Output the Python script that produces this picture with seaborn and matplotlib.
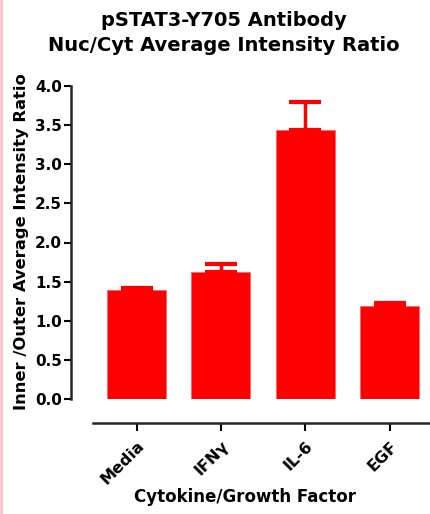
import matplotlib
matplotlib.use("Agg")
import matplotlib.pyplot as plt
import seaborn as sns
import pandas as pd
from matplotlib.patches import Rectangle

categories = ["Media", "IFN\u03b3", "IL-6", "EGF"]
means = [1.39, 1.62, 3.44, 1.19]
errors = [0.03, 0.10, 0.35, 0.04]
yticks = [0.0, 0.5, 1.0, 1.5, 2.0, 2.5, 3.0, 3.5, 4.0]

sns.set_style("ticks")
plt.rcParams['font.family'] = ['DejaVu Sans']
plt.rcParams['font.weight'] = 'bold'
plt.rcParams['text.color'] = 'black'
plt.rcParams['axes.labelcolor'] = 'black'
plt.rcParams['xtick.color'] = 'black'
plt.rcParams['ytick.color'] = 'black'

df = pd.DataFrame({"cat": categories, "val": means})

fig = plt.figure(figsize=(4.31, 5.14), dpi=100)
ax = fig.add_axes([93/431, 115/514, 337/431, 313/514])

sns.barplot(data=df, x="cat", y="val", color="#FF0000", saturation=1,
            width=0.70, errorbar=None, ax=ax, edgecolor="#FF6060", linewidth=0.5)
xs = list(range(len(categories)))
ax.errorbar(xs, means, yerr=[[0]*len(means), errors], fmt="none",
            ecolor="#FF0000", elinewidth=2.5, capsize=11.5, capthick=3, zorder=1)

ax.set_xlim(-0.516, 3.48)
ax.set_ylim(0, 4.0)

for s in ["top", "right"]:
    ax.spines[s].set_visible(False)
ax.spines["left"].set_position(("outward", 15.8))
ax.spines["bottom"].set_position(("outward", 17.3))
ax.spines["left"].set_linewidth(1.8)
ax.spines["bottom"].set_linewidth(1.8)
ax.tick_params(axis='y', direction='out', length=5, width=1.5, pad=1.5)
ax.tick_params(axis='x', direction='out', length=6, width=1.5, pad=5, labelrotation=45)

ax.set_yticks(yticks)
ax.set_yticklabels([f"{t:.1f}" for t in yticks], fontsize=11, fontweight='bold')
ax.set_xticks(xs)
ax.set_xticklabels(categories, fontsize=11.5, fontweight='bold')
for lab in ax.get_xticklabels():
    lab.set_rotation(45)
    lab.set_ha('right')
    lab.set_rotation_mode('anchor')

ax.set_xlabel("Cytokine/Growth Factor", fontsize=12, fontweight='bold')
ax.xaxis.set_label_coords(0.451, -0.285)
ax.set_ylabel("Inner /Outer Average Intensity Ratio", fontsize=11.8, fontweight='bold')
ax.yaxis.set_label_coords(-0.19, 0.503)

fig.suptitle("pSTAT3-Y705 Antibody\nNuc/Cyt Average Intensity Ratio",
             fontsize=14, fontweight='bold', x=0.52, y=0.978, linespacing=1.4)

fig.patches.append(Rectangle((0, 0), 2/431, 1, transform=fig.transFigure,
                             color="#F7C9CF", zorder=10))

fig.savefig("out.png", dpi=100)
